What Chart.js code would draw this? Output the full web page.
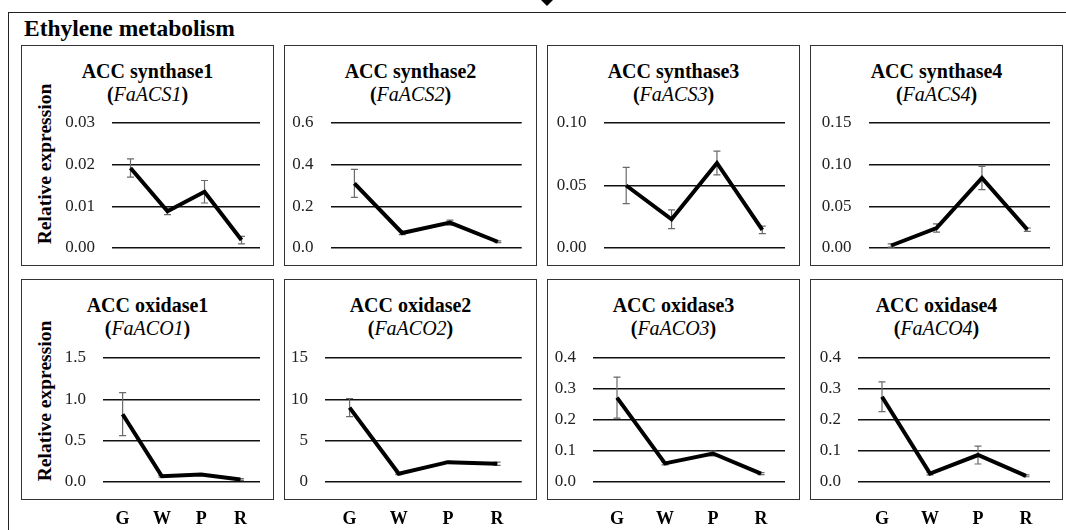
<!DOCTYPE html>
<html><head><meta charset="utf-8">
<script src="https://cdn.jsdelivr.net/npm/chart.js@4.4.1/dist/chart.umd.min.js"></script>
<style>
html,body{margin:0;padding:0;background:#fff;width:1066px;height:530px;overflow:hidden;font-family:"Liberation Serif","Times New Roman",serif;color:#000}
.abs{position:absolute}
#frame{left:8px;top:12px;width:1100px;height:600px;border:1.5px solid #222;box-sizing:border-box}
.box{border:1.5px solid #333;box-sizing:border-box}
.ttl{text-align:center;font-weight:bold;font-size:20px;line-height:23px}
.ttl i{font-weight:normal}
.ytl{width:200px;height:22px;line-height:22px;text-align:center;font-weight:bold;font-size:19.5px;transform:rotate(-90deg)}
#head{left:24px;top:17px;font-weight:bold;font-size:23.5px;line-height:23px;white-space:nowrap}
#tri{left:541px;top:0;width:0;height:0;border-left:6px solid transparent;border-right:6px solid transparent;border-top:6px solid #000}
canvas{position:absolute}
</style>
</head><body>
<div id="frame" class="abs"></div>
<div id="tri" class="abs"></div>
<div id="head" class="abs">Ethylene metabolism</div>
<div id="root"></div>
<script>
// ---- data ----
const categories = ['G', 'W', 'P', 'R'];
const yAxisTitle = 'Relative expression';

const acs1 = [0.0192, 0.0088, 0.0135, 0.0019];
const acs1Err = [0.0022, 0.0008, 0.0027, 0.0009];
const acs1Ticks = ['0.00', '0.01', '0.02', '0.03'];

const acs2 = [0.31, 0.072, 0.122, 0.03];
const acs2Err = [0.067, 0.008, 0.012, 0.004];
const acs2Ticks = ['0.0', '0.2', '0.4', '0.6'];

const acs3 = [0.050, 0.023, 0.068, 0.0145];
const acs3Err = [0.0145, 0.0075, 0.0095, 0.003];
const acs3Ticks = ['0.00', '0.05', '0.10'];

const acs4 = [0.003, 0.024, 0.084, 0.022];
const acs4Err = [0.002, 0.005, 0.014, 0.002];
const acs4Ticks = ['0.00', '0.05', '0.10', '0.15'];

const aco1 = [0.82, 0.07, 0.09, 0.03];
const aco1Err = [0.26, 0.01, 0.01, 0.01];
const aco1Ticks = ['0.0', '0.5', '1.0', '1.5'];

const aco2 = [9.0, 1.0, 2.4, 2.2];
const aco2Err = [1.1, 0.1, 0.1, 0.2];
const aco2Ticks = ['0', '5', '10', '15'];

const aco3 = [0.272, 0.06, 0.092, 0.027];
const aco3Err = [0.066, 0.005, 0.008, 0.003];
const aco3Ticks = ['0.0', '0.1', '0.2', '0.3', '0.4'];

const aco4 = [0.275, 0.027, 0.087, 0.02];
const aco4Err = [0.048, 0.004, 0.029, 0.003];
const aco4Ticks = ['0.0', '0.1', '0.2', '0.3', '0.4'];

const panelNames = ['ACC synthase1','ACC synthase2','ACC synthase3','ACC synthase4','ACC oxidase1','ACC oxidase2','ACC oxidase3','ACC oxidase4'];
const geneNames = ['FaACS1','FaACS2','FaACS3','FaACS4','FaACO1','FaACO2','FaACO3','FaACO4'];
const seriesValues = [acs1, acs2, acs3, acs4, aco1, aco2, aco3, aco4];
const seriesErrors = [acs1Err, acs2Err, acs3Err, acs4Err, aco1Err, aco2Err, aco3Err, aco4Err];
const seriesTicks = [acs1Ticks, acs2Ticks, acs3Ticks, acs4Ticks, aco1Ticks, aco2Ticks, aco3Ticks, aco4Ticks];

// ---- layout (positions only) ----
const boxLeft = [21, 284, 547, 810];
const rowTop = [45, 279];
const boxW = 253, boxH = 221;
const gridLeft = [112, 330.5, 603.5, 868.5, 103, 325, 593, 858];
const gridRight = [260, 521.7, 785, 1050, 260, 521.7, 785, 1050];
const FONT = '"Liberation Serif","Times New Roman",serif';

const errorBars = {
  id: 'errorBars',
  beforeDatasetsDraw(chart) {
    const {ctx, scales: {x, y}} = chart;
    chart.data.datasets.forEach(ds => {
      if (!ds.errors) return;
      ctx.save();
      ctx.strokeStyle = '#6a6a6a';
      ctx.lineWidth = 1.2;
      ds.data.forEach((v, i) => {
        const e = ds.errors[i];
        const px = x.getPixelForValue(i);
        const t = y.getPixelForValue(v + e), b = y.getPixelForValue(v - e);
        ctx.beginPath();
        ctx.moveTo(px, t); ctx.lineTo(px, b);
        ctx.moveTo(px - 3.5, t); ctx.lineTo(px + 3.5, t);
        ctx.moveTo(px - 3.5, b); ctx.lineTo(px + 3.5, b);
        ctx.stroke();
      });
      ctx.restore();
    });
  }
};

const root = document.getElementById('root');
for (let k = 0; k < 8; k++) {
  const row = k < 4 ? 0 : 1;
  const col = k % 4;
  const L = boxLeft[col], T = rowTop[row];

  const box = document.createElement('div');
  box.className = 'abs box';
  box.style.cssText = `left:${L}px;top:${T}px;width:${boxW}px;height:${boxH}px`;
  root.appendChild(box);

  const ttl = document.createElement('div');
  ttl.className = 'abs ttl';
  ttl.style.cssText = `left:${L}px;top:${T + 15}px;width:${boxW}px`;
  ttl.innerHTML = `${panelNames[k]}<br>(<i>${geneNames[k]}</i>)`;
  root.appendChild(ttl);

  if (col === 0) {
    const yt = document.createElement('div');
    yt.className = 'abs ytl';
    const cy = row === 0 ? 164 : 401;
    yt.style.cssText = `left:${44.5 - 100}px;top:${cy - 11}px`;
    yt.textContent = yAxisTitle;
    root.appendChild(yt);
  }

  const cv = document.createElement('canvas');
  const cTop = T + 60;
  const cH = row === 0 ? 161 : 200;
  cv.width = boxW; cv.height = cH;
  cv.style.cssText = `left:${L}px;top:${cTop}px;width:${boxW}px;height:${cH}px`;
  root.appendChild(cv);

  const ticksArr = seriesTicks[k];
  const yMax = parseFloat(ticksArr[ticksArr.length - 1]);
  const axisW = gridLeft[k] - L;
  const padR = (L + boxW) - gridRight[k];
  const showX = row === 1;

  new Chart(cv, {
    type: 'line',
    data: {
      labels: categories,
      datasets: [{
        data: seriesValues[k],
        errors: seriesErrors[k],
        borderColor: '#000',
        borderWidth: 4,
        pointRadius: 0,
        tension: 0,
        fill: false,
        borderJoinStyle: 'miter',
        borderCapStyle: 'butt'
      }]
    },
    options: {
      responsive: false,
      animation: false,
      devicePixelRatio: 1,
      layout: {padding: {left: 0, right: padR, top: row === 0 ? 18 : 19, bottom: row === 0 ? 18 : 8.4}},
      plugins: {legend: {display: false}, tooltip: {enabled: false}, title: {display: false}},
      scales: {
        x: {
          type: 'category',
          offset: true,
          display: showX,
          afterFit: s => { s.paddingLeft = 0; s.paddingRight = 0; s.height = showX ? 48.6 : 0; },
          grid: {display: false, drawTicks: false},
          border: {display: false},
          ticks: {color: '#000', padding: 27, maxRotation: 0, autoSkip: false,
                  font: {family: FONT, size: 18, weight: 'bold'}}
        },
        y: {
          min: 0,
          max: yMax,
          afterBuildTicks: s => { s.ticks = ticksArr.map(t => ({value: parseFloat(t)})); },
          afterFit: s => { s.width = axisW; s.paddingTop = 0; s.paddingBottom = 0; },
          grid: {color: '#111', lineWidth: 1.5, drawTicks: false},
          border: {display: false},
          ticks: {padding: 17, color: '#222', autoSkip: false, font: {family: FONT, size: 17},
                  callback: (v, i) => ticksArr[i]}
        }
      }
    },
    plugins: [errorBars]
  });
}
</script>
</body></html>
